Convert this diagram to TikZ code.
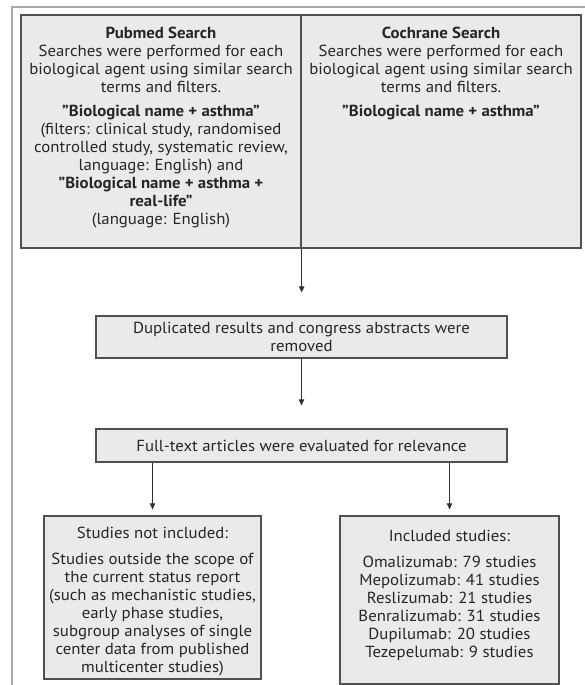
\documentclass[tikz,border=0pt]{standalone}
\usepackage{fontspec}
\setmainfont{PT Sans}[FakeStretch=1.05]
\usetikzlibrary{arrows.meta}
\definecolor{boxfill}{HTML}{EAEAEA}
\definecolor{boxline}{HTML}{505050}
\definecolor{framegray}{HTML}{A8A8A8}
\definecolor{arrowcol}{HTML}{303030}
\newcommand\dq{\symbol{34}}
\tikzset{
  x=1pt, y=-1pt,
  box/.style={draw=boxline, fill=boxfill, line width=1.3pt, inner sep=0pt},
  txt/.style={inner sep=0pt, align=center, text=black!85,
    font=\fontsize{16}{18}\selectfont},
  arr/.style={draw=arrowcol, line width=1.1pt, -{Triangle[length=6pt,width=5.5pt]}}
}
\begin{document}
\begin{tikzpicture}
\useasboundingbox (0,0) rectangle (585,685);
% outer frame
\draw[framegray, line width=1.5pt] (12,685) -- (12,7) -- (585,7);
% boxes
\node[box, minimum width=280pt, minimum height=233pt] (pub) at (161,131.5) {};
\node[box, minimum width=280pt, minimum height=233pt] (coch) at (441,131.5) {};
\node[box, minimum width=411pt, minimum height=42pt] (dup) at (301.5,337) {};
\node[box, minimum width=411pt, minimum height=33pt] (full) at (301.5,445.5) {};
\node[box, minimum width=217pt, minimum height=163pt] (excl) at (152.5,597.5) {};
\node[box, minimum width=219pt, minimum height=168pt] (incl) at (449.5,600) {};
% texts
\node[txt, anchor=north] (pubt) at (161,27) {\textbf{Pubmed Search}\\
Searches were performed for each\\
biological agent using similar search\\
terms and filters.\\[6pt]
\textbf{\dq Biological name + asthma\dq}\\
(filters: clinical study, randomised\\
controlled study, systematic review,\\
language: English) and\\
\textbf{\dq Biological name + asthma +}\\
\textbf{real-life\dq}\\
(language: English)};
\node[txt, anchor=north] (cocht) at (441,27) {\textbf{Cochrane Search}\\
Searches were performed for each\\
biological agent using similar search\\
terms and filters.\\[6pt]
\textbf{\dq Biological name + asthma\dq}};
\node[txt] (dupt) at (dup.center) {Duplicated results and congress abstracts were\\ removed};
\node[txt] (fullt) at (full.center) {Full-text articles were evaluated for relevance};
\node[txt, anchor=north] (exclt) at (152.5,527) {Studies not included:\\[8pt]
Studies outside the scope of\\
the current status report\\
(such as mechanistic studies,\\
early phase studies,\\
subgroup analyses of single\\
center data from published\\
multicenter studies)};
\node[txt, anchor=north] (inclt) at (449.5,530) {Included studies:\\[8pt]
Omalizumab: 79 studies\\
Mepolizumab: 41 studies\\
Reslizumab: 21 studies\\
Benralizumab: 31 studies\\
Dupilumab: 20 studies\\
Tezepelumab: 9 studies};
% connectors
\draw[arr, shorten >=23pt] (pub.south east) -- (pub.south east |- dup.north);
\draw[arr, shorten >=23pt] (dup.south) -- (full.north);
\draw[arr, shorten >=6pt] (full.south -| excl.north) -- (excl.north);
\draw[arr, shorten >=6pt] (full.south -| incl.north) -- (incl.north);
\end{tikzpicture}
\end{document}
